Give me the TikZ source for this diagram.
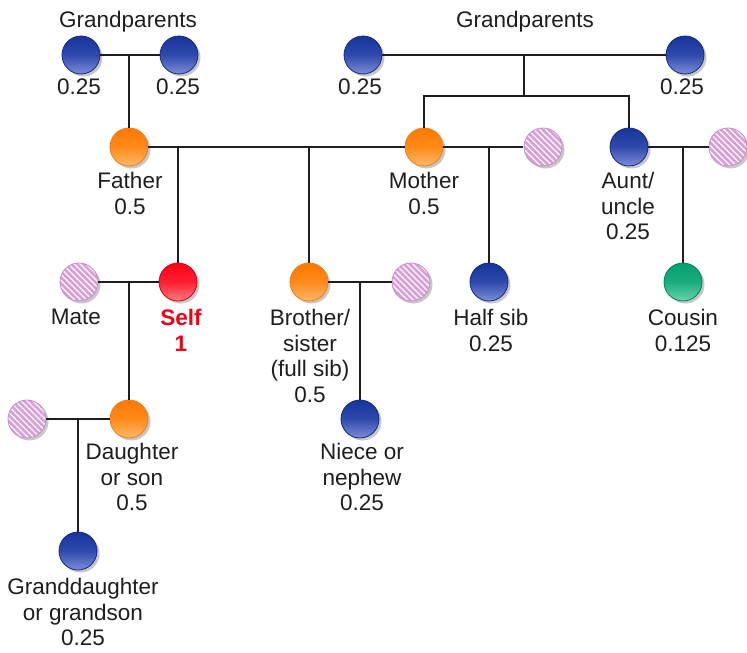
\documentclass[tikz,border=0pt]{standalone}
\usepackage{fontspec}
\setmainfont{Liberation Sans}
\usetikzlibrary{shadows,patterns.meta}

% colours of the person markers
\definecolor{blueTop}{RGB}{22,52,158}
\definecolor{blueBot}{RGB}{125,140,215}
\definecolor{blueLine}{RGB}{20,42,128}
\definecolor{orangeTop}{RGB}{255,122,0}
\definecolor{orangeBot}{RGB}{255,185,105}
\definecolor{orangeLine}{RGB}{236,125,20}
\definecolor{redTop}{RGB}{255,0,24}
\definecolor{redBot}{RGB}{255,125,125}
\definecolor{redLine}{RGB}{205,0,24}
\definecolor{greenTop}{RGB}{0,160,112}
\definecolor{greenBot}{RGB}{105,212,172}
\definecolor{greenLine}{RGB}{0,128,90}
\definecolor{pinkFill}{RGB}{214,160,214}
\definecolor{pinkLine}{RGB}{200,140,200}
\definecolor{ink}{RGB}{30,30,30}
\definecolor{selfRed}{RGB}{240,0,20}

\tikzset{
  person/.style={circle, minimum size=38pt, inner sep=0pt, line width=0.8pt,
    drop shadow={shadow xshift=2.5pt, shadow yshift=-2.5pt, opacity=0.22, fill=black}},
  blueP/.style={person, draw=blueLine, top color=blueTop, bottom color=blueBot, middle color=blueTop!75!blueBot},
  orangeP/.style={person, draw=orangeLine, top color=orangeTop, bottom color=orangeBot, middle color=orangeTop!75!orangeBot},
  redP/.style={person, draw=redLine, top color=redTop, bottom color=redBot, middle color=redTop!75!redBot},
  greenP/.style={person, draw=greenLine, top color=greenTop, bottom color=greenBot, middle color=greenTop!75!greenBot},
  mateP/.style={person, draw=pinkLine, preaction={fill=pinkFill},
    pattern={Lines[angle=-45, distance=4.2pt, line width=1.4pt]}, pattern color=white!85!pinkFill},
  lbl/.style={anchor=north, inner sep=0pt, align=center, text=ink,
    font=\fontsize{22.5}{25.7}\selectfont},
  link/.style={draw=ink, line width=2.3pt},
}

\begin{document}
\begin{tikzpicture}[x=1pt, y=-1pt]
\useasboundingbox[fill=white] (0,0) rectangle (747,653);

% ---- generation of grandparents
\node[blueP] (gpa1) at (81,55) {};
\node[blueP] (gpa2) at (179,55) {};
\node[blueP] (gpb1) at (363,55) {};
\node[blueP] (gpb2) at (685,55) {};

% ---- parents' generation
\node[orangeP] (father) at (129,147) {};
\node[orangeP] (mother) at (424,147) {};
\node[mateP]   (mmate)  at (543,147) {};
\node[blueP]   (aunt)   at (629,147) {};
\node[mateP]   (amate)  at (728,147) {};

% ---- own generation
\node[mateP]   (mate)    at (79,282) {};
\node[redP]    (self)    at (178,282) {};
\node[orangeP] (bro)     at (309,282) {};
\node[mateP]   (bmate)   at (411,282) {};
\node[blueP]   (halfsib) at (489,282) {};
\node[greenP]  (cousin)  at (683,282) {};

% ---- children
\node[mateP]   (dmate)    at (27,419) {};
\node[orangeP] (daughter) at (129,419) {};
\node[blueP]   (niece)    at (360,419) {};

% ---- grandchildren
\node[blueP] (grand) at (78,551) {};

% junction points on the mating lines
\coordinate (ja)  at (129,55);
\coordinate (jb)  at (524,55);
\coordinate (jb2) at (524,96);
\coordinate (jself) at (178,147);
\coordinate (jbro)  at (309,147);
\coordinate (jhs)   at (489,147);
\coordinate (jc)    at (683,147);
\coordinate (jd)    at (129,282);
\coordinate (jn)    at (360,282);
\coordinate (jg)    at (78,419);

% ---- connectors
\draw[link] (gpa1) -- (gpa2);
\draw[link] (ja) -- (father);
\draw[link] (gpb1) -- (gpb2);
\draw[link] (jb) -- (jb2);
\draw[link] (mother) |- (jb2) -| (aunt);
\draw[link] (father) -- (mother);
\draw[link] (jself) -- (self);
\draw[link] (jbro) -- (bro);
\draw[link] (mother) -- (mmate);
\draw[link] (jhs) -- (halfsib);
\draw[link] (aunt) -- (amate);
\draw[link] (jc) -- (cousin);
\draw[link] (mate) -- (self);
\draw[link] (jd) -- (daughter);
\draw[link] (bro) -- (bmate);
\draw[link] (jn) -- (niece);
\draw[link] (dmate) -- (daughter);
\draw[link] (jg) -- (grand);

% ---- labels
\node[lbl] (tgpa)  at (128,11) {Grandparents};
\node[lbl] (tgpb)  at (525,11) {Grandparents};
\node[lbl] (tgpa1) at (79,79) {0.25};
\node[lbl] (tgpa2) at (178,79) {0.25};
\node[lbl] (tgpb1) at (360,79) {0.25};
\node[lbl] (tgpb2) at (682,79) {0.25};
\node[lbl] (tfather) at (130,172) {Father\\0.5};
\node[lbl] (tmother) at (424,172) {Mother\\0.5};
\node[lbl] (taunt)   at (628,172) {Aunt/\\uncle\\0.25};
\node[lbl] (tmate)   at (76,309) {Mate};
\node[lbl, text=selfRed, font=\fontsize{22.5}{25.7}\selectfont\bfseries] (tself) at (181,309) {Self\\1};
\node[lbl] (tbro)    at (310,309) {Brother/\\sister\\(full sib)\\0.5};
\node[lbl] (thalf)   at (491,309) {Half sib\\0.25};
\node[lbl] (tcousin) at (683,309) {Cousin\\0.125};
\node[lbl] (tdaughter) at (132,443) {Daughter\\or son\\0.5};
\node[lbl] (tniece)  at (362,443) {Niece or\\nephew\\0.25};
\node[lbl] (tgrand)  at (83,578) {Granddaughter\\or grandson\\0.25};
\end{tikzpicture}
\end{document}
